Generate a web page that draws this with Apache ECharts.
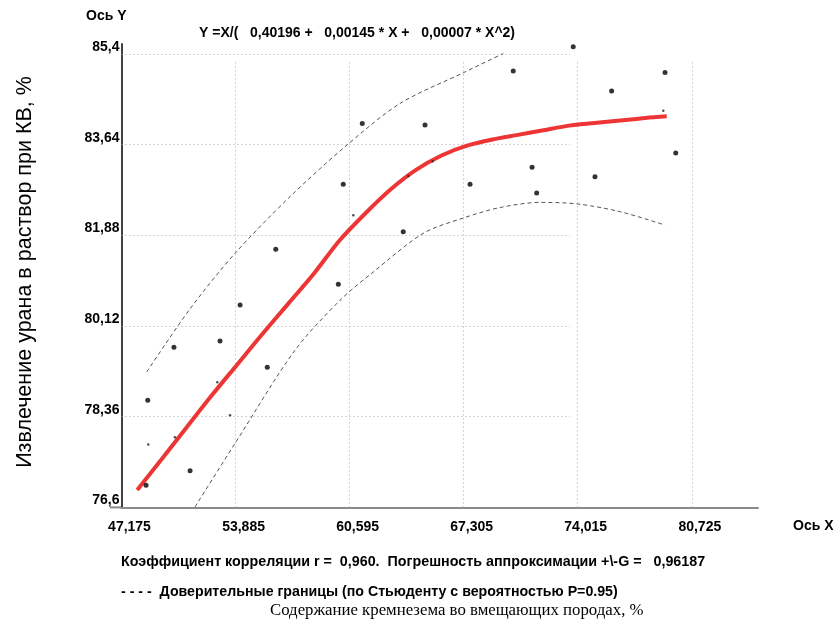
<!DOCTYPE html>
<html>
<head>
<meta charset="utf-8">
<script src="https://cdn.jsdelivr.net/npm/echarts@6/dist/echarts.min.js"></script>
<style>
html,body{margin:0;padding:0;background:#fff;}
#chart{width:835px;height:623px;}
</style>
</head>
<body>
<div id="chart"></div>
<script>
// Axis settings
const xMin = 47.175, xStep = 6.71, xMax = 84.62;
const yMin = 76.6, yStep = 1.76, yMax = 85.6;
const xGridTicks = [53.885, 60.595, 67.305, 74.015, 80.725];
const yGridTicks = [78.36, 80.12, 81.88, 83.64, 85.4];
const hGridEndX = 73.56;
const vGridTopY = 85.28;

// Observed points [X, Y]
const pointsX = [48.72, 48.62, 51.21, 55.75, 50.26, 52.97, 54.15, 56.25, 59.93, 61.34, 65.03, 60.22, 70.22, 67.68, 71.33, 71.60, 63.75, 73.75, 79.15, 76.01, 75.03, 79.78];
const pointsY = [78.68, 77.03, 77.31, 79.32, 79.71, 79.83, 80.53, 81.61, 80.93, 84.05, 84.02, 82.87, 85.07, 82.87, 83.20, 82.70, 81.95, 85.54, 85.04, 84.68, 83.02, 83.48];
// Small partially-drawn marks
const marksX = [48.75, 50.32, 52.81, 53.56, 65.48, 79.05, 60.81, 64.05];
const marksY = [77.82, 77.96, 79.03, 78.39, 83.32, 84.30, 82.27, 83.03];

// Regression curve
const fitX = [48.10, 49.5, 51.0, 52.5, 54.0, 55.5, 57.0, 58.5, 60.0, 61.5, 63.0, 64.5, 66.0, 67.5, 69.0, 70.5, 72.0, 73.5, 75.0, 76.5, 78.0, 79.25];
const fitY = [76.94, 77.52, 78.15, 78.78, 79.38, 79.98, 80.56, 81.14, 81.78, 82.30, 82.77, 83.15, 83.43, 83.62, 83.74, 83.83, 83.92, 84.01, 84.06, 84.11, 84.16, 84.19];

// Confidence bounds
const upX = [48.66, 51.2, 53.85, 56.99, 60.32, 63.56, 67.31, 69.64];
const upY = [79.23, 80.45, 81.53, 82.60, 83.60, 84.44, 85.04, 85.41];
const loX = [51.50, 53.85, 57.38, 60.03, 61.99, 64.93, 67.31, 69.44, 71.79, 73.99, 76.50, 79.15];
const loY = [76.61, 77.84, 79.65, 80.62, 81.17, 81.92, 82.22, 82.42, 82.52, 82.49, 82.34, 82.08];

const zip = (a, b) => a.map((v, i) => [v, b[i]]);
const fmt = (v, d) => String(Math.round(v * Math.pow(10, d)) / Math.pow(10, d)).replace('.', ',');

const gridLines = [];
yGridTicks.forEach(y => gridLines.push([{coord: [xMin, y]}, {coord: [hGridEndX, y]}]));
xGridTicks.forEach(x => gridLines.push([{coord: [x, yMin]}, {coord: [x, vGridTopY]}]));

const chart = echarts.init(document.getElementById('chart'), null, {renderer: 'canvas'});
const sans = '"Liberation Sans", Arial, sans-serif';
chart.setOption({
  animation: false,
  backgroundColor: '#ffffff',
  grid: {left: 121.5, right: 77, top: 43.7, bottom: 115.6, containLabel: false},
  xAxis: {
    type: 'value', min: xMin, max: xMax, interval: xStep,
    axisLine: {show: true, onZero: false, lineStyle: {color: '#8a8a8a', width: 2}},
    axisTick: {show: false},
    splitLine: {show: false},
    axisLabel: {
      showMaxLabel: false, margin: 13, color: '#000',
      fontFamily: sans, fontWeight: 'bold', fontSize: 14,
      padding: [0, 0, 0, 16],
      formatter: v => fmt(v, 3)
    }
  },
  yAxis: {
    type: 'value', min: yMin, max: yMax, interval: yStep,
    axisLine: {show: true, onZero: false, lineStyle: {color: '#000', width: 1.5}},
    axisTick: {show: false},
    splitLine: {show: false},
    axisLabel: {
      showMaxLabel: false, margin: 2, color: '#000',
      fontFamily: sans, fontWeight: 'bold', fontSize: 14,
      verticalAlign: 'bottom', lineHeight: 14,
      formatter: v => fmt(v, 2)
    }
  },
  series: [
    {
      type: 'scatter', data: zip(pointsX, pointsY), symbol: 'circle', symbolSize: 5,
      itemStyle: {color: '#000'}, z: 5,
      markLine: {
        silent: true, symbol: 'none', label: {show: false},
        lineStyle: {color: '#aaa', type: [1, 3], width: 1},
        data: gridLines, z: 1
      }
    },
    {
      type: 'scatter', data: zip(marksX, marksY), symbol: 'circle', symbolSize: 2.5,
      itemStyle: {color: '#222'}, z: 5
    },
    {
      type: 'line', data: zip(upX, upY), smooth: 0.3, symbol: 'none',
      lineStyle: {color: '#555', width: 1, type: [4, 3]}, z: 3
    },
    {
      type: 'line', data: zip(loX, loY), smooth: 0.3, symbol: 'none',
      lineStyle: {color: '#555', width: 1, type: [4, 3]}, z: 3
    },
    {
      type: 'line', data: zip(fitX, fitY), smooth: 0.3, symbol: 'none',
      lineStyle: {color: '#ee3535', width: 4}, z: 4
    }
  ],
  graphic: [
    {type: 'line', shape: {x1: 110, y1: 507.4, x2: 122, y2: 507.4}, style: {stroke: '#8a8a8a', lineWidth: 2}},
    {type: 'text', left: 86, top: 9, style: {text: 'Ось Y', font: 'bold 14px ' + sans, fill: '#000'}},
    {type: 'text', left: 199, top: 26, style: {text: 'Y =X/(   0,40196 +   0,00145 * X +   0,00007 * X^2)', font: 'bold 14px ' + sans, fill: '#000'}},
    {type: 'text', left: 793, top: 519, style: {text: 'Ось X', font: 'bold 14px ' + sans, fill: '#000'}},
    {type: 'text', left: 121, top: 555, style: {text: 'Коэффициент корреляции r =  0,960.  Погрешность аппроксимации +\\-G =   0,96187', font: 'bold 14.3px ' + sans, fill: '#000'}},
    {type: 'text', left: 121, top: 585, style: {text: '- - - -  Доверительные границы (по Стьюденту с вероятностью P=0.95)', font: 'bold 14.2px ' + sans, fill: '#000'}},
    {type: 'text', left: 270, top: 602, style: {text: 'Содержание кремнезема во вмещающих породах, %', font: '16.8px "Liberation Serif", "Times New Roman", serif', fill: '#000'}},
    {type: 'text', x: 25, y: 272, rotation: Math.PI / 2, style: {text: 'Извлечение урана в раствор при КВ, %', font: '21.5px ' + sans, fill: '#000', align: 'center', verticalAlign: 'middle'}}
  ]
});
</script>
</body>
</html>
